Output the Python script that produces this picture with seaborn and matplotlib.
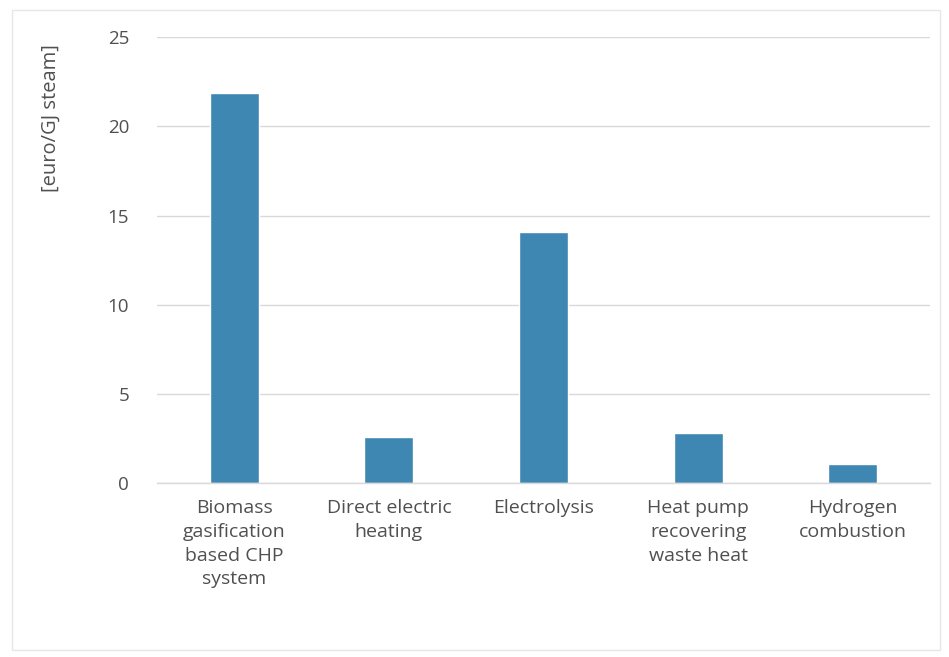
import matplotlib
matplotlib.use("Agg")
import matplotlib.pyplot as plt
import seaborn as sns
import pandas as pd
from matplotlib.patches import Rectangle

categories = ["Biomass\ngasification\nbased CHP\nsystem", "Direct electric\nheating", "Electrolysis",
              "Heat pump\nrecovering\nwaste heat", "Hydrogen\ncombustion"]
values = [21.9, 2.55, 14.1, 2.8, 1.05]
yticks = [0, 5, 10, 15, 20, 25]
ylabel = "[euro/GJ steam]"

sns.set_theme(style="white")
plt.rcParams['font.family'] = ['Open Sans', 'DejaVu Sans']

df = pd.DataFrame({"cat": categories, "val": values})
fig = plt.figure(figsize=(9.49, 6.57), dpi=100)
ax = fig.add_axes([0.1654, 0.2653, 0.8146, 0.6777])
sns.barplot(data=df, x="cat", y="val", color="#3f87b3", saturation=1, width=0.317, ax=ax)
ax.set_ylim(0, 25)
ax.set_xlim(-0.5, 4.5)
ax.set_yticks(yticks)
ax.set_yticklabels([str(t) for t in yticks])
ax.yaxis.grid(True, color="#d9d9d9", linewidth=1)
ax.set_axisbelow(True)
for s in ["top", "right", "left"]:
    ax.spines[s].set_visible(False)
ax.spines["bottom"].set_color("#d9d9d9")
ax.spines["bottom"].set_linewidth(1)
ax.tick_params(axis="y", length=0, pad=20, labelsize=13.5, labelcolor="#505050")
ax.tick_params(axis="x", length=0, pad=12, labelsize=14, labelcolor="#505050")
for lbl in ax.get_xticklabels():
    lbl.set_linespacing(1.4)
ax.set_xlabel("")
ax.set_ylabel(ylabel, fontsize=14.5, color="#505050")
ax.yaxis.set_label_coords(-0.125, 0.82)

fig.patches.append(Rectangle((12/949, 1 - 650/657), (940 - 12)/949, (650 - 10)/657,
                             transform=fig.transFigure, fill=False, edgecolor="#e6e6e6", linewidth=1))
fig.savefig("out.png", dpi=100)
